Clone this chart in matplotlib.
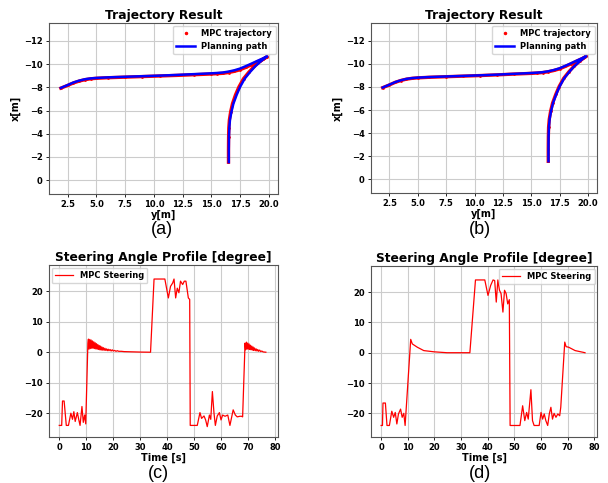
import matplotlib
matplotlib.use('Agg')
import matplotlib.pyplot as plt

# planning path, y[m] (horizontal) and x[m] (vertical)
plan_y = [1.9, 2.5, 3.0, 3.5, 4.0, 4.5, 5.0, 6.0, 7.5, 9.0, 10.5, 12.0, 13.5, 15.0, 15.5,
          16.0, 16.5, 17.0, 17.5, 18.0, 18.5, 19.0, 19.5, 19.85,
          19.3, 18.8, 18.37, 17.9, 17.5, 17.2, 16.92, 16.75, 16.62, 16.56, 16.53, 16.52, 16.52]
plan_x = [-7.95, -8.2, -8.42, -8.58, -8.7, -8.77, -8.81, -8.86, -8.91, -8.96, -9.01, -9.07, -9.14, -9.21, -9.24,
          -9.28, -9.36, -9.47, -9.62, -9.83, -10.05, -10.28, -10.5, -10.68,
          -10.25, -9.8, -9.33, -8.75, -8.04, -7.35, -6.6, -5.9, -5.2, -4.5, -3.7, -2.6, -1.55]

# MPC trajectory (a) and (b)
mpc_a_y = [1.9, 2.5, 3.0, 3.5, 4.0, 4.5, 5.0, 6.0, 7.5, 9.0, 10.5, 12.0, 13.5, 15.0, 15.5,
           16.0, 16.5, 17.0, 17.5, 18.0, 18.5, 19.0, 19.5, 19.85,
           19.25, 18.72, 18.28, 17.8, 17.4, 17.1, 16.84, 16.68, 16.57, 16.52, 16.5, 16.49, 16.49]
mpc_a_x = [-7.93, -8.17, -8.38, -8.54, -8.66, -8.74, -8.78, -8.83, -8.88, -8.93, -8.98, -9.03, -9.09, -9.15, -9.18,
           -9.21, -9.28, -9.38, -9.52, -9.72, -9.95, -10.2, -10.44, -10.64,
           -10.25, -9.8, -9.33, -8.75, -8.04, -7.35, -6.6, -5.9, -5.2, -4.5, -3.7, -2.6, -1.55]
mpc_b_y = [1.9, 2.5, 3.0, 3.5, 4.0, 4.5, 5.0, 6.0, 7.5, 9.0, 10.5, 12.0, 13.5, 15.0, 15.5,
           16.0, 16.5, 17.0, 17.5, 18.0, 18.5, 19.0, 19.5, 19.85,
           19.28, 18.77, 18.33, 17.86, 17.46, 17.16, 16.88, 16.71, 16.59, 16.53, 16.51, 16.5, 16.5]
mpc_b_x = [-7.94, -8.18, -8.4, -8.56, -8.68, -8.75, -8.79, -8.84, -8.89, -8.94, -8.99, -9.05, -9.12, -9.18, -9.21,
           -9.25, -9.32, -9.43, -9.57, -9.78, -10.0, -10.24, -10.47, -10.66,
           -10.25, -9.8, -9.33, -8.75, -8.04, -7.35, -6.6, -5.9, -5.2, -4.5, -3.7, -2.6, -1.55]

# steering angle (c)
steer_c_t = [0, 0.9, 1.2, 1.8, 2.6, 3.4, 4.3, 4.9, 5.4, 5.9, 6.7, 7.2, 7.7, 8.4, 8.9, 9.4, 9.8,
             10.6, 10.8, 11.0, 11.3, 11.5, 11.8, 12.0, 12.3, 12.5, 12.8, 13.0, 13.3, 13.5, 13.8, 14.0,
             14.3, 14.5, 14.8, 15.0, 15.3, 15.5, 15.8, 16.0, 16.3, 16.6, 16.9, 17.2, 17.5, 17.8, 18.1,
             18.4, 18.8, 19.2, 19.6, 20.0, 20.5, 21.0, 21.5, 22.0, 23.0, 24.0, 26.0, 28.0, 30.0, 33.8,
             35.1, 39.1, 40.4, 41.2, 42.0, 42.5, 43.1, 43.7, 44.3, 44.9, 45.7, 46.3, 46.9, 47.8, 48.3,
             48.5, 51.1, 52.1, 52.7, 53.6, 54.2, 54.8, 55.6, 56.1, 56.7, 57.3, 57.8, 58.5, 59.3, 59.9,
             60.5, 61.4, 62.4, 63.2, 63.8, 64.4, 65.2, 65.9, 66.9, 67.5, 67.9,
             68.8, 69.0, 69.3, 69.5, 69.8, 70.0, 70.3, 70.5, 70.8, 71.0, 71.3, 71.5, 71.8, 72.0, 72.3,
             72.6, 72.9, 73.2, 73.5, 73.8, 74.2, 74.6, 75.0, 75.5, 76.5]
steer_c = [-24, -24, -16, -16, -24, -24, -20, -22, -19.5, -22.7, -19.8, -22, -24, -17.8, -23, -20.6, -23.5,
           3.0, 4.3, 1.0, 4.2, 1.2, 4.0, 1.3, 3.7, 1.3, 3.4, 1.2, 3.1, 1.1, 2.8, 1.0,
           2.5, 0.9, 2.2, 0.8, 2.0, 0.7, 1.7, 0.7, 1.5, 0.6, 1.3, 0.6, 1.1, 0.5, 1.0,
           0.5, 0.9, 0.4, 0.8, 0.4, 0.6, 0.3, 0.5, 0.3, 0.3, 0.2, 0.15, 0.1, 0.05, 0.0,
           24, 24, 17.8, 21.6, 22.7, 24, 17.8, 21, 19.5, 23.3, 22.2, 23.3, 23.3, 17.8, 17.3,
           -24, -24, -19.8, -21.7, -20.9, -22.2, -24.4, -20.6, -22, -12.9, -20, -24, -20.9, -19.8, -22.2,
           -20.6, -21, -20.6, -24, -21.5, -18.9, -20.6, -21.2, -21, -21, -21.2,
           3.0, 0.8, 3.3, 1.0, 3.0, 1.0, 2.7, 0.9, 2.3, 0.8, 2.0, 0.7, 1.7, 0.6, 1.4,
           0.5, 1.1, 0.4, 0.9, 0.3, 0.7, 0.2, 0.4, 0.1, 0.0]

# steering angle (d)
steer_d_t = [0, 0.5, 0.7, 1.6, 2.2, 3.1, 4.0, 4.7, 5.3, 5.9, 6.5, 7.3, 7.9, 8.5, 9.0,
             11.1, 11.7, 13.6, 16.0, 19.8, 24.7, 33.3,
             35.4, 38.9, 40.1, 41.1, 42.0, 42.6, 43.2, 43.8, 44.4, 45.0, 45.7, 46.3, 46.9, 47.5, 48.1,
             48.4, 52.1, 53.1, 53.9, 54.6, 55.2, 56.2, 56.8, 57.4, 59.3, 60.0, 60.6, 61.2, 61.8, 62.5,
             63.1, 63.7, 64.3, 64.9, 65.6, 66.3, 67.0, 67.4,
             68.9, 69.4, 70.4, 72.8, 76.5]
steer_d = [-24, -24, -16.6, -16.6, -24, -24, -19.3, -21.3, -19.7, -23.5, -20.2, -18.6, -21.3, -20, -24,
           4.4, 2.9, 1.8, 0.7, 0.3, 0.0, 0.0,
           24, 24, 18.9, 22.2, 24, 23.8, 16.7, 24, 20.6, 19.5, 13.4, 20.6, 19.5, 16.1, 17.5,
           -24, -24, -17.5, -22.4, -19.7, -21.9, -12.2, -22.4, -24, -24, -19.7, -21.9, -20.2, -22.4, -24,
           -20.2, -18, -21.9, -20, -21.3, -20.2, -20.8, -18,
           3.5, 2.0, 1.8, 0.7, 0.0]

traj_yticks = [-12, -10, -8, -6, -4, -2, 0]
traj_xticks = [2.5, 5.0, 7.5, 10.0, 12.5, 15.0, 17.5, 20.0]
steer_xticks = [0, 10, 20, 30, 40, 50, 60, 70, 80]
steer_yticks = [-20, -10, 0, 10, 20]

W, H = 608, 483
fig = plt.figure(figsize=(W / 100, H / 100), dpi=100)


def box(l, t, r, b):
    return [l / W, 1 - b / H, (r - l) / W, (b - t) / H]


def style(ax):
    ax.grid(True, color='#cccccc', lw=0.8)
    ax.set_axisbelow(True)
    for s in ax.spines.values():
        s.set_color('#555555')
        s.set_linewidth(0.8)
    ax.tick_params(labelsize=6, length=2.5, width=0.6, pad=2)
    for lab in ax.get_xticklabels() + ax.get_yticklabels():
        lab.set_fontweight('bold')


def traj(rect, my, mx):
    ax = fig.add_axes(rect)
    ax.plot(my, mx, '-', color='red', lw=2.4)
    ax.plot(my, mx, '.', color='red', ms=2, label='MPC trajectory')
    ax.plot(plan_y, plan_x, '-', color='blue', lw=1.8, label='Planning path')
    ax.set_xlim(0.87, 20.8)
    ax.set_ylim(1.2, -13.55)
    ax.set_xticks(traj_xticks)
    ax.set_yticks(traj_yticks)
    ax.set_title('Trajectory Result', fontsize=8.8, fontweight='bold', pad=3)
    ax.set_xlabel('y[m]', fontsize=7, fontweight='bold', labelpad=0)
    ax.set_ylabel('x[m]', fontsize=7, fontweight='bold', labelpad=2)
    ax.legend(loc='upper right', prop={'size': 6, 'weight': 'bold'}, markerscale=1.5,
              borderaxespad=0.3, handlelength=2.2)
    style(ax)
    return ax


def steer(rect, t, d, loc):
    ax = fig.add_axes(rect)
    ax.plot(t, d, '-', color='red', lw=0.9, label='MPC Steering')
    ax.set_xlim(-3.8, 81)
    ax.set_ylim(-27.8, 28.6)
    ax.set_xticks(steer_xticks)
    ax.set_yticks(steer_yticks)
    ax.set_title('Steering Angle Profile [degree]', fontsize=8.8, fontweight='bold', pad=3)
    ax.set_xlabel('Time [s]', fontsize=7, fontweight='bold', labelpad=0)
    ax.legend(loc=loc, prop={'size': 6, 'weight': 'bold'}, borderaxespad=0.3, handlelength=2.2)
    style(ax)
    return ax


traj(box(49, 23, 278, 194), mpc_a_y, mpc_a_x)
traj(box(371, 23, 597, 193), mpc_b_y, mpc_b_x)
steer(box(49, 265, 278, 437), steer_c_t, steer_c, 'upper left')
steer(box(371, 266, 597, 437), steer_d_t, steer_d, 'upper right')

for txt, x, y in [('(a)', 162, 229), ('(b)', 480, 229), ('(c)', 158, 473), ('(d)', 480, 473)]:
    fig.text(x / W, 1 - y / H, txt, fontsize=13, family='Liberation Sans', ha='center', va='center')

fig.savefig('out.png', dpi=100)
